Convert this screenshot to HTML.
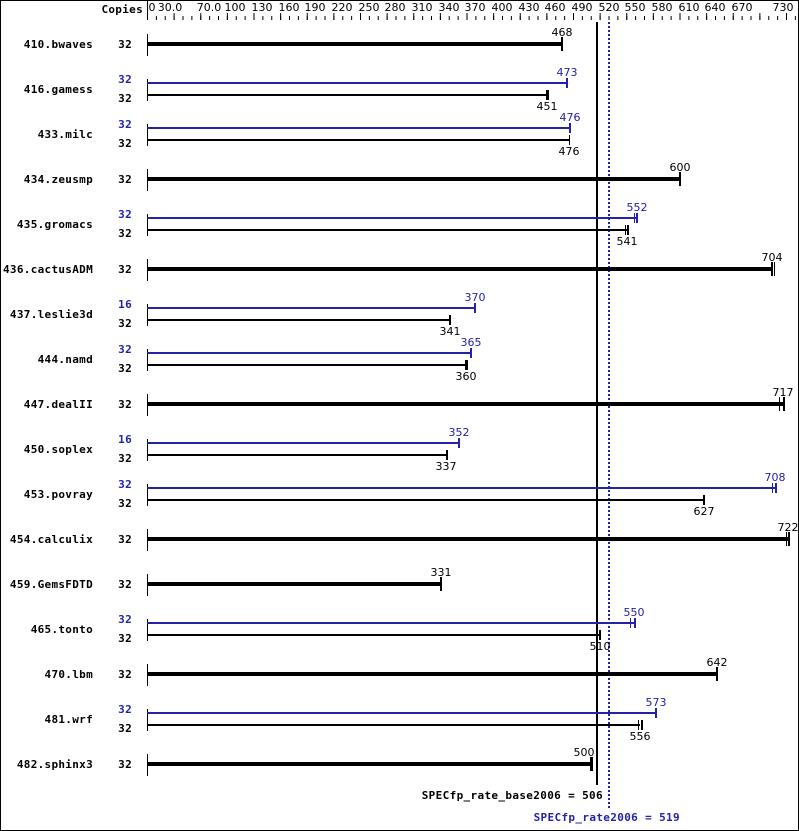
<!DOCTYPE html>
<html><head><meta charset="utf-8"><style>
html,body{margin:0;padding:0;background:#fff}
svg{display:block}
.l{font:bold 11px "DejaVu Sans Mono","Liberation Mono",monospace;fill:#000;letter-spacing:0.3px}
.c{font:bold 11px "DejaVu Sans Mono","Liberation Mono",monospace;text-anchor:end;letter-spacing:0.3px}
.v{font:11px "DejaVu Sans","Liberation Sans",sans-serif;text-anchor:middle}
.a{font:11px "DejaVu Sans","Liberation Sans",sans-serif;text-anchor:middle}
.b{fill:#2222aa}
</style></head><body>
<svg width="799" height="831" xmlns="http://www.w3.org/2000/svg">
<defs>
<pattern id="mn" x="147" y="0" width="8.875" height="831" patternUnits="userSpaceOnUse"><rect x="0" y="0" width="1" height="831" fill="#000"/></pattern>
<pattern id="mj" x="147" y="0" width="26.625" height="831" patternUnits="userSpaceOnUse"><rect x="0" y="0" width="1" height="831" fill="#000"/></pattern>
</defs>
<rect x="0.5" y="0.5" width="798" height="830" fill="#fff" stroke="#000"/>
<line x1="147.5" y1="0" x2="147.5" y2="20" stroke="#000"/>
<rect x="147" y="16" width="649" height="4" fill="url(#mn)"/>
<rect x="147" y="13" width="649" height="7" fill="url(#mj)"/>
<text class="c" x="143" y="13">Copies</text>
<g class="a">
<text x="152" y="11">0</text><text x="170" y="11">30.0</text><text x="209" y="11">70.0</text><text x="235" y="11">100</text><text x="262" y="11">130</text><text x="289" y="11">160</text><text x="315" y="11">190</text><text x="342" y="11">220</text><text x="369" y="11">250</text><text x="395" y="11">280</text><text x="422" y="11">310</text><text x="449" y="11">340</text><text x="475" y="11">370</text><text x="502" y="11">400</text><text x="529" y="11">430</text><text x="555" y="11">460</text><text x="582" y="11">490</text><text x="609" y="11">520</text><text x="635" y="11">550</text><text x="662" y="11">580</text><text x="689" y="11">610</text><text x="715" y="11">640</text><text x="742" y="11">670</text><text x="783" y="11">730</text>
</g>
<line x1="597" y1="22" x2="597" y2="785" stroke="#000" stroke-width="2"/>
<line x1="609" y1="22" x2="609" y2="808" stroke="#2222aa" stroke-width="2" stroke-dasharray="2,2"/>
<g class="l" text-anchor="end">
<text x="93" y="48">410.bwaves</text><text x="93" y="93">416.gamess</text><text x="93" y="138">433.milc</text><text x="93" y="183">434.zeusmp</text><text x="93" y="228">435.gromacs</text><text x="93" y="273">436.cactusADM</text><text x="93" y="318">437.leslie3d</text><text x="93" y="363">444.namd</text><text x="93" y="408">447.dealII</text><text x="93" y="453">450.soplex</text><text x="93" y="498">453.povray</text><text x="93" y="543">454.calculix</text><text x="93" y="588">459.GemsFDTD</text><text x="93" y="633">465.tonto</text><text x="93" y="678">470.lbm</text><text x="93" y="723">481.wrf</text><text x="93" y="768">482.sphinx3</text>
</g>
<g class="c">
<text x="132" y="48">32</text>
<text x="132" y="83" class="c b">32</text><text x="132" y="102">32</text>
<text x="132" y="128" class="c b">32</text><text x="132" y="147">32</text>
<text x="132" y="183">32</text>
<text x="132" y="218" class="c b">32</text><text x="132" y="237">32</text>
<text x="132" y="273">32</text>
<text x="132" y="308" class="c b">16</text><text x="132" y="327">32</text>
<text x="132" y="353" class="c b">32</text><text x="132" y="372">32</text>
<text x="132" y="408">32</text>
<text x="132" y="443" class="c b">16</text><text x="132" y="462">32</text>
<text x="132" y="488" class="c b">32</text><text x="132" y="507">32</text>
<text x="132" y="543">32</text>
<text x="132" y="588">32</text>
<text x="132" y="623" class="c b">32</text><text x="132" y="642">32</text>
<text x="132" y="678">32</text>
<text x="132" y="713" class="c b">32</text><text x="132" y="732">32</text>
<text x="132" y="768">32</text>
</g>
<g stroke="#000">
<path d="M147.5 34V56M147.5 79V101M147.5 124V146M147.5 169V191M147.5 214V236M147.5 259V281M147.5 304V326M147.5 349V371M147.5 394V416M147.5 439V461M147.5 484V506M147.5 529V551M147.5 574V596M147.5 619V641M147.5 664V686M147.5 709V731M147.5 754V776"/>
</g>
<g fill="#000">
<rect x="147" y="42" width="415" height="4"/><rect x="561" y="37" width="2" height="14"/>
<rect x="147" y="177" width="532" height="4"/><rect x="679" y="172" width="2" height="14"/>
<rect x="147" y="267" width="625" height="4"/><rect x="771" y="262" width="2" height="14"/><rect x="774" y="262" width="1" height="14"/>
<rect x="147" y="402" width="636" height="4"/><rect x="779" y="397" width="1" height="14"/><rect x="783" y="397" width="2" height="14"/>
<rect x="147" y="537" width="641" height="4"/><rect x="786" y="532" width="1" height="14"/><rect x="788" y="532" width="2" height="14"/>
<rect x="147" y="582" width="294" height="4"/><rect x="440" y="577" width="2" height="14"/>
<rect x="147" y="672" width="570" height="4"/><rect x="716" y="667" width="2" height="14"/>
<rect x="147" y="762" width="444" height="4"/><rect x="590" y="757" width="3" height="14"/>
</g>
<g fill="#2222aa">
<rect x="147" y="82" width="420" height="2"/><rect x="566" y="78" width="2" height="10"/>
<rect x="147" y="127" width="423" height="2"/><rect x="569" y="123" width="2" height="10"/>
<rect x="147" y="217" width="490" height="2"/><rect x="634" y="213" width="1" height="10"/><rect x="636" y="213" width="2" height="10"/>
<rect x="147" y="307" width="328" height="2"/><rect x="474" y="303" width="2" height="10"/>
<rect x="147" y="352" width="324" height="2"/><rect x="470" y="348" width="2" height="10"/>
<rect x="147" y="442" width="312" height="2"/><rect x="458" y="438" width="2" height="10"/>
<rect x="147" y="487" width="628" height="2"/><rect x="772" y="483" width="1" height="10"/><rect x="775" y="483" width="2" height="10"/>
<rect x="147" y="622" width="488" height="2"/><rect x="630" y="618" width="1" height="10"/><rect x="634" y="618" width="2" height="10"/>
<rect x="147" y="712" width="508" height="2"/><rect x="655" y="708" width="2" height="10"/>
</g>
<g fill="#000">
<rect x="147" y="94" width="400" height="2"/><rect x="546" y="90" width="3" height="10"/>
<rect x="147" y="139" width="423" height="2"/><rect x="569" y="135" width="1" height="10"/>
<rect x="147" y="229" width="480" height="2"/><rect x="625" y="225" width="1" height="10"/><rect x="627" y="225" width="2" height="10"/>
<rect x="147" y="319" width="303" height="2"/><rect x="449" y="315" width="2" height="10"/>
<rect x="147" y="364" width="319" height="2"/><rect x="465" y="360" width="3" height="10"/>
<rect x="147" y="454" width="299" height="2"/><rect x="446" y="450" width="2" height="10"/>
<rect x="147" y="499" width="556" height="2"/><rect x="703" y="495" width="2" height="10"/>
<rect x="147" y="634" width="453" height="2"/><rect x="599" y="630" width="2" height="10"/>
<rect x="147" y="724" width="493" height="2"/><rect x="638" y="720" width="1" height="10"/><rect x="641" y="720" width="2" height="10"/>
</g>
<g class="v">
<text x="562" y="36">468</text>
<text x="567" y="76" class="v b">473</text><text x="547" y="110">451</text>
<text x="570" y="121" class="v b">476</text><text x="569" y="155">476</text>
<text x="680" y="171">600</text>
<text x="637" y="211" class="v b">552</text><text x="627" y="245">541</text>
<text x="772" y="261">704</text>
<text x="475" y="301" class="v b">370</text><text x="450" y="335">341</text>
<text x="471" y="346" class="v b">365</text><text x="466" y="380">360</text>
<text x="783" y="396">717</text>
<text x="459" y="436" class="v b">352</text><text x="446" y="470">337</text>
<text x="775" y="481" class="v b">708</text><text x="704" y="515">627</text>
<text x="788" y="531">722</text>
<text x="441" y="576">331</text>
<text x="634" y="616" class="v b">550</text><text x="600" y="650">510</text>
<text x="717" y="666">642</text>
<text x="656" y="706" class="v b">573</text><text x="640" y="740">556</text>
<text x="584" y="756">500</text>
</g>
<text class="c" x="603" y="799" style="letter-spacing:0.35px">SPECfp_rate_base2006 = 506</text>
<text class="c b" x="680" y="821" style="letter-spacing:0.35px">SPECfp_rate2006 = 519</text>
</svg>
</body></html>
